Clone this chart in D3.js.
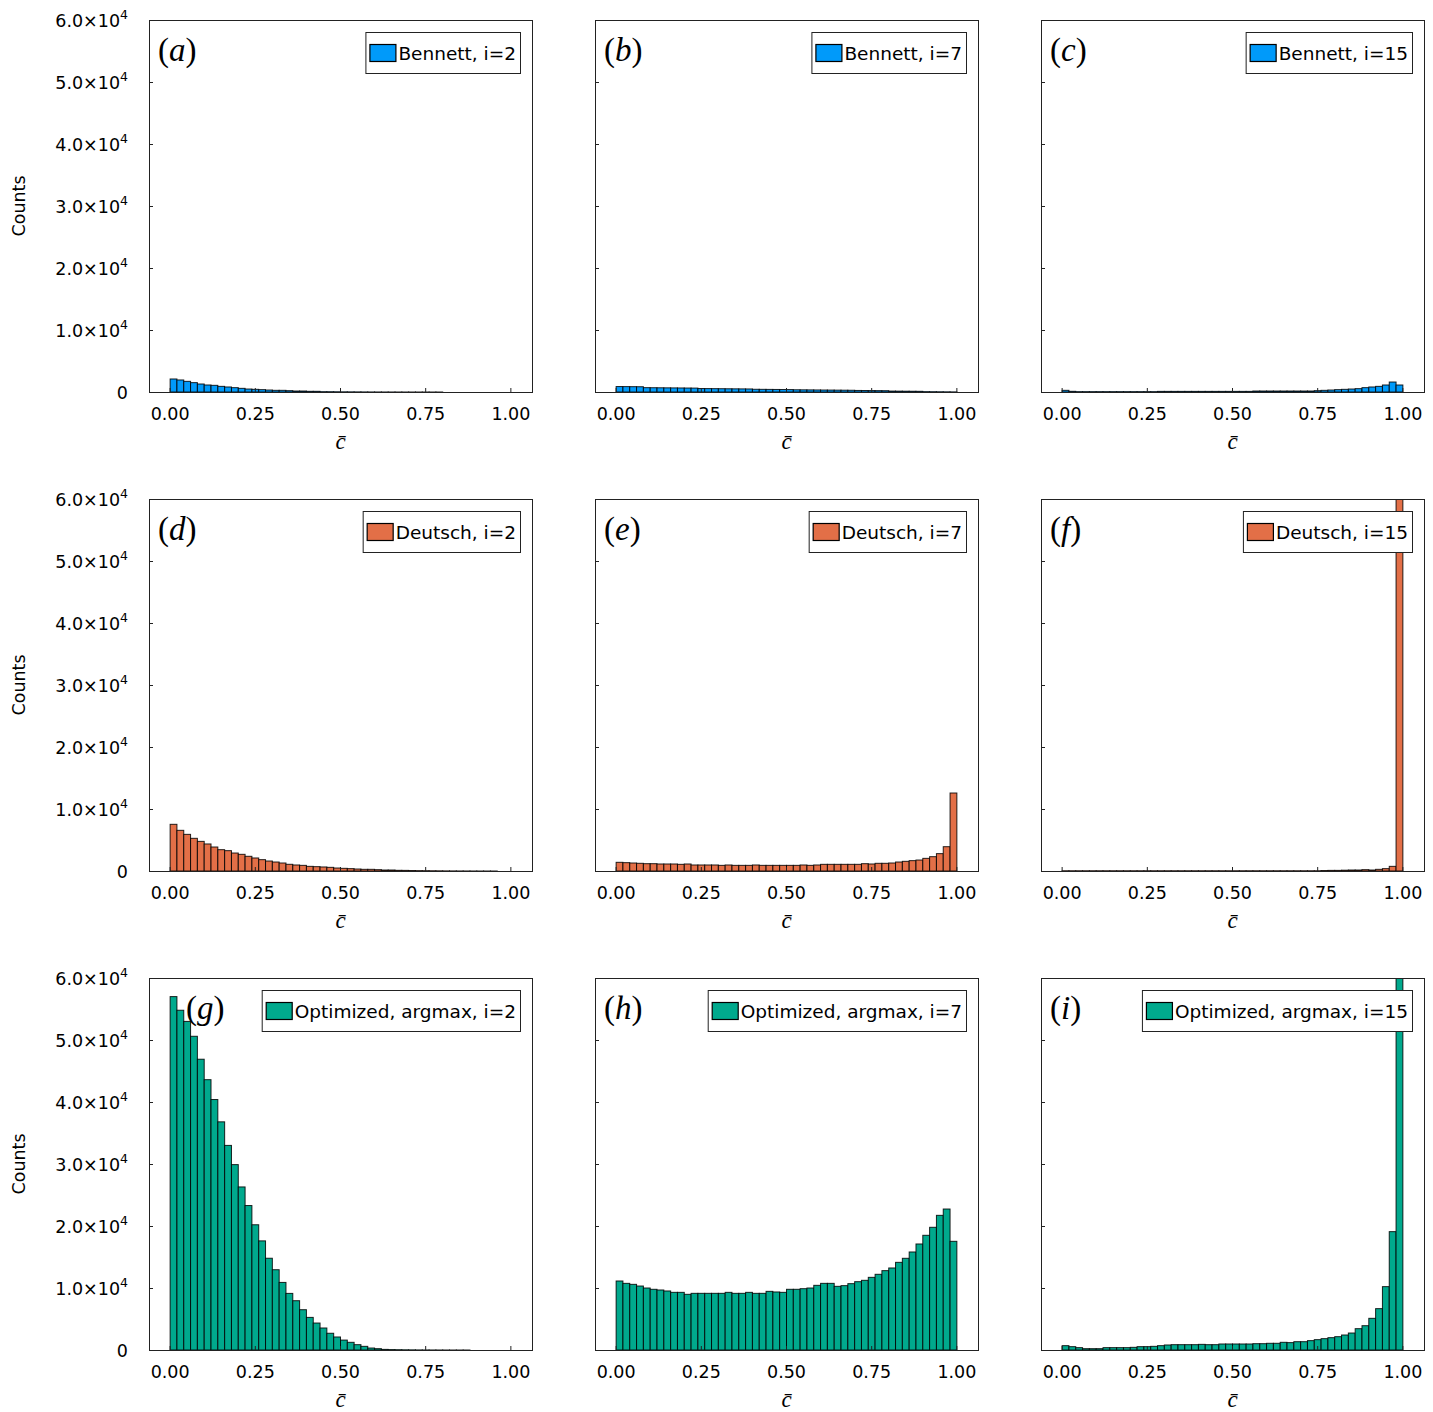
<!DOCTYPE html>
<html>
<head>
<meta charset="utf-8">
<script src="https://cdn.jsdelivr.net/npm/d3@7"></script>
<style>
  body { margin: 0; background: #fff; }
</style>
</head>
<body>
<script>
// bins of 0.02 on [0,1]
const binWidth = 0.02;
const xTicks = [0, 0.25, 0.5, 0.75, 1.0];
const xTickLabels = ["0.00", "0.25", "0.50", "0.75", "1.00"];
const yTicks = [0, 10000, 20000, 30000, 40000, 50000, 60000];
const yTickLabels = ["0", "1.0", "2.0", "3.0", "4.0", "5.0", "6.0"];

const panelLetters = ["a", "b", "c", "d", "e", "f", "g", "h", "i"];
const legendNames = [
    "Bennett, i=2", "Bennett, i=7", "Bennett, i=15",
    "Deutsch, i=2", "Deutsch, i=7", "Deutsch, i=15",
    "Optimized, argmax, i=2", "Optimized, argmax, i=7", "Optimized, argmax, i=15"
];
const rowColors = ["#009AFA", "#E36F47", "#00A98D"];

// counts per bin
const bennett2 = [2100, 1940, 1720, 1510, 1290, 1130, 1075, 910, 810, 700,
    590, 480, 430, 380, 320, 270, 270, 215, 160, 160,
    110, 110, 55, 50, 40, 30, 25, 20, 15, 10,
    8, 6, 5, 4, 3, 2, 2, 1, 1, 1,
    0, 0, 0, 0, 0, 0, 0, 0, 0, 0];
const bennett7 = [880, 870, 860, 850, 700, 690, 680, 670, 660, 650,
    640, 630, 560, 550, 540, 530, 520, 510, 500, 490,
    440, 430, 420, 410, 400, 390, 360, 350, 340, 330,
    320, 310, 300, 290, 280, 250, 240, 230, 220, 210,
    150, 140, 130, 120, 110, 60, 50, 40, 30, 20];
const bennett15 = [270, 110, 60, 60, 60, 60, 60, 60, 60, 60,
    60, 60, 60, 60, 100, 100, 100, 100, 100, 100,
    100, 100, 100, 100, 100, 100, 100, 100, 160, 160,
    160, 160, 160, 160, 160, 160, 160, 215, 270, 320,
    380, 430, 480, 540, 700, 810, 910, 1130, 1610, 1130];
const deutsch2 = [7530, 6560, 5910, 5270, 4780, 4360, 3870, 3440, 3280, 2900,
    2690, 2370, 2100, 1830, 1610, 1450, 1290, 1080, 970, 910,
    750, 700, 650, 590, 480, 430, 380, 320, 270, 270,
    215, 160, 160, 110, 100, 80, 60, 50, 40, 30,
    20, 15, 10, 8, 5, 3, 2, 1, 0, 0];
const deutsch7 = [1400, 1345, 1290, 1240, 1180, 1180, 1130, 1130, 1130, 1075,
    1130, 970, 970, 970, 970, 910, 970, 910, 910, 910,
    970, 910, 910, 910, 910, 910, 910, 970, 910, 970,
    1075, 1075, 1075, 1075, 1075, 1075, 1180, 1130, 1240, 1240,
    1290, 1450, 1560, 1670, 1770, 2040, 2310, 2800, 3920, 12580];
const deutsch15 = [40, 40, 40, 40, 40, 40, 40, 40, 40, 40,
    40, 40, 40, 40, 40, 40, 40, 40, 40, 40,
    40, 40, 40, 40, 40, 40, 40, 40, 40, 40,
    40, 40, 40, 40, 40, 40, 40, 40, 80, 100,
    100, 130, 160, 160, 215, 160, 270, 380, 750, 90000];
const optimized2 = [57000, 54800, 53000, 50600, 46900, 43600, 40400, 36800, 33000, 29900,
    26300, 23300, 20200, 17600, 14800, 12950, 10900, 9130, 7950, 6500,
    5260, 4350, 3550, 2700, 2100, 1600, 1240, 860, 590, 320,
    215, 100, 70, 50, 35, 25, 15, 10, 8, 5,
    3, 2, 1, 1, 0, 0, 0, 0, 0, 0];
const optimized7 = [11130, 10750, 10590, 10320, 10000, 9790, 9680, 9520, 9300, 9300,
    8980, 9140, 9140, 9140, 9140, 9140, 9300, 9140, 9140, 9300,
    9140, 9140, 9460, 9360, 9300, 9790, 9790, 9890, 10000, 10430,
    10750, 10750, 10270, 10380, 10700, 11020, 11240, 11720, 12210, 12800,
    13230, 14140, 14790, 15810, 17100, 18500, 19790, 21720, 22740, 17530];
const optimized15 = [700, 540, 380, 215, 215, 215, 380, 380, 380, 380,
    430, 540, 540, 590, 700, 810, 860, 860, 860, 860,
    910, 860, 860, 970, 970, 970, 970, 970, 1020, 1020,
    1080, 1080, 1240, 1190, 1340, 1340, 1510, 1670, 1830, 1990,
    2150, 2420, 2740, 3440, 3920, 5110, 6670, 10220, 19090, 75000];

const series = [bennett2, bennett7, bennett15,
    deutsch2, deutsch7, deutsch15,
    optimized2, optimized7, optimized15];

// layout of the 3x3 grid
const colLeft = [149, 595, 1041];
const rowTop = [20, 499, 978];
const plotW = 383, plotH = 372;
// the (g) tag sits further right in the original
const tagShift = [0, 0, 0, 0, 0, 0, 28, 0, 0];

const sans = "DejaVu Sans, sans-serif";
const serif = "Liberation Serif, DejaVu Serif, serif";

const svg = d3.select("body")
    .append("svg")
    .attr("width", 1433)
    .attr("height", 1412);

svg.append("rect").attr("width", 1433).attr("height", 1412).attr("fill", "#fff");

const defs = svg.append("defs");

function drawPanel(idx) {
    const row = Math.floor(idx / 3), col = idx % 3;
    const left = colLeft[col], top = rowTop[row];
    const counts = series[idx];
    const color = rowColors[row];

    const x = d3.scaleLinear().domain([-0.062, 1.062]).range([left, left + plotW]);
    const y = d3.scaleLinear().domain([0, 60000]).range([top + plotH, top]);

    defs.append("clipPath").attr("id", "clip" + idx)
        .append("rect")
        .attr("x", left).attr("y", top)
        .attr("width", plotW).attr("height", plotH);

    const g = svg.append("g");

    // bars
    g.append("g")
        .attr("clip-path", "url(#clip" + idx + ")")
        .selectAll("rect")
        .data(counts)
        .enter()
        .append("rect")
        .attr("x", function (d, i) { return x(i * binWidth); })
        .attr("width", function (d, i) { return x((i + 1) * binWidth) - x(i * binWidth); })
        .attr("y", function (d) { return y(Math.min(d, 62000)); })
        .attr("height", function (d) { return y(0) - y(Math.min(d, 62000)); })
        .attr("fill", color)
        .attr("stroke", "#000")
        .attr("stroke-opacity", 0.85)
        .attr("stroke-width", 1);

    // frame
    g.append("rect")
        .attr("x", left + 0.5).attr("y", top + 0.5)
        .attr("width", plotW).attr("height", plotH)
        .attr("fill", "none")
        .attr("stroke", "#222")
        .attr("stroke-width", 1);

    // x ticks (inward)
    g.selectAll(".xt")
        .data(xTicks)
        .enter()
        .append("line")
        .attr("x1", function (d) { return x(d); })
        .attr("x2", function (d) { return x(d); })
        .attr("y1", top + plotH)
        .attr("y2", top + plotH - 4)
        .attr("stroke", "#222");

    g.selectAll(".xl")
        .data(xTicks)
        .enter()
        .append("text")
        .attr("x", function (d) { return x(d); })
        .attr("y", top + plotH + 28)
        .attr("text-anchor", "middle")
        .style("font-family", sans)
        .style("font-size", "17.5px")
        .attr("fill", "#000")
        .text(function (d, i) { return xTickLabels[i]; });

    // y ticks (inward)
    g.selectAll(".yt")
        .data(yTicks)
        .enter()
        .append("line")
        .attr("x1", left)
        .attr("x2", left + 4)
        .attr("y1", function (d) { return y(d) + 0.5; })
        .attr("y2", function (d) { return y(d) + 0.5; })
        .attr("stroke", "#222");

    if (col === 0) {
        const yl = g.selectAll(".yl")
            .data(yTicks)
            .enter()
            .append("text")
            .attr("x", left - 21)
            .attr("y", function (d) { return y(d) + 6.5; })
            .attr("text-anchor", "end")
            .style("font-family", sans)
            .style("font-size", "17.5px")
            .attr("fill", "#000");
        yl.each(function (d, i) {
            const t = d3.select(this);
            if (d === 0) { t.text("0"); return; }
            t.append("tspan").text(yTickLabels[i] + "\u00d710");
            t.append("tspan").attr("dy", -8).style("font-size", "12.5px").text("4");
        });

        g.append("text")
            .attr("transform", "translate(25," + (top + plotH / 2) + ") rotate(-90)")
            .attr("text-anchor", "middle")
            .style("font-family", sans)
            .style("font-size", "17.5px")
            .attr("fill", "#000")
            .text("Counts");
    }

    // x label: c-bar
    g.append("text")
        .attr("x", left + plotW / 2)
        .attr("y", top + plotH + 57)
        .attr("text-anchor", "middle")
        .style("font-family", serif)
        .style("font-style", "italic")
        .style("font-size", "23px")
        .attr("fill", "#000")
        .text("c\u0304");

    // panel tag, e.g. (a)
    const tag = g.append("text")
        .attr("x", left + 9 + tagShift[idx])
        .attr("y", top + 41)
        .style("font-family", serif)
        .style("font-size", "33px")
        .attr("fill", "#000");
    tag.append("tspan").text("(");
    tag.append("tspan").style("font-style", "italic").text(panelLetters[idx]);
    tag.append("tspan").text(")");

    // legend
    const lg = g.append("g");
    const lt = lg.append("text")
        .style("font-family", sans)
        .style("font-size", "18.5px")
        .attr("fill", "#000")
        .text(legendNames[idx]);
    const tw = lt.node().getComputedTextLength();
    const boxW = tw + 37, boxH = 41;
    const bx = left + plotW - 12 - boxW, by = top + 12;
    lg.insert("rect", "text")
        .attr("x", bx + 0.5).attr("y", by + 0.5)
        .attr("width", boxW).attr("height", boxH)
        .attr("fill", "#fff")
        .attr("stroke", "#222");
    lg.append("rect")
        .attr("x", bx + 4.5).attr("y", by + 12.5)
        .attr("width", 26).attr("height", 17)
        .attr("fill", color)
        .attr("stroke", "#000")
        .attr("stroke-width", 1.2);
    lt.attr("x", bx + 33).attr("y", by + 27.5);
}

for (let i = 0; i < 9; i++) drawPanel(i);
</script>
</body>
</html>
